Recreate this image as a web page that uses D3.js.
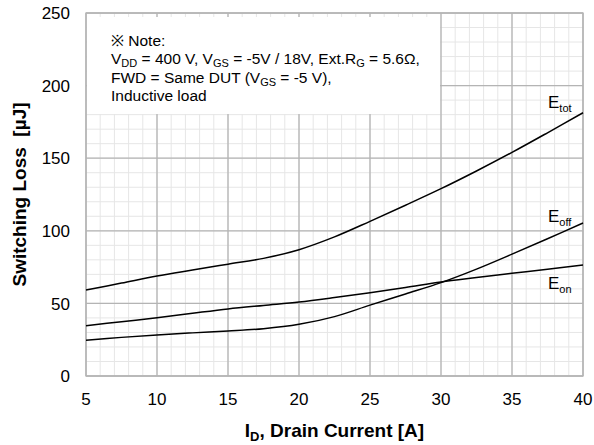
<!DOCTYPE html>
<html><head><meta charset="utf-8">
<script src="https://cdn.jsdelivr.net/npm/d3@7"></script>
<style>
body{margin:0;background:#fff}
svg{display:block}
text{font-family:"Liberation Sans",Arial,Helvetica,sans-serif;fill:#000}
</style>
</head><body>
<svg id="chart" width="594" height="445"></svg>
<script>
// ---- data ----
const current = [5, 7.5, 10, 12.5, 15, 17.5, 20, 22.5, 25, 27.5, 30, 32.5, 35, 37.5, 40];
const eTot = [59.2, 64.0, 68.9, 73.0, 77.0, 81.0, 87.0, 95.8, 106.5, 117.6, 129.0, 141.2, 154.0, 167.5, 181.3];
const eOff = [24.7, 26.6, 28.3, 29.7, 31.0, 32.6, 35.6, 40.9, 48.8, 56.5, 64.3, 73.6, 83.9, 94.5, 105.4];
const eOn  = [34.6, 37.4, 40.1, 43.2, 46.2, 48.6, 50.9, 54.0, 57.4, 61.0, 64.8, 67.8, 70.7, 73.6, 76.4];
const seriesSubs = ["tot", "off", "on"];
const xTicks = [5, 10, 15, 20, 25, 30, 35, 40];
const yTicks = [0, 50, 100, 150, 200, 250];
const xMinor = d3.range(5, 41, 1);
const yMinor = d3.range(0, 251, 10);
const xTitle = [["I", false], ["D", true], [", Drain Current [A]", false]];
const yTitle = "Switching Loss\u00A0\u00A0[µJ]";
const noteLines = [
  [["※ Note:", false]],
  [["V", false], ["DD", true], [" = 400 V, V", false], ["GS", true], [" = -5V / 18V, Ext.R", false], ["G", true], [" = 5.6Ω,", false]],
  [["FWD = Same DUT (V", false], ["GS", true], [" = -5 V),", false]],
  [["Inductive load", false]]
];

// ---- layout ----
const svg = d3.select("#chart");
const L = 86, R = 583, T = 13, B = 376;
const x = d3.scaleLinear().domain([5, 40]).range([L, R]);
const y = d3.scaleLinear().domain([0, 250]).range([B, T]);

// minor grid
const g = svg.append("g");
g.selectAll(".vmin").data(xMinor).join("line")
  .attr("x1", d => x(d)).attr("x2", d => x(d)).attr("y1", T).attr("y2", B)
  .attr("stroke", "#e6e6e6").attr("stroke-width", 1);
g.selectAll(".hmin").data(yMinor).join("line")
  .attr("y1", d => y(d)).attr("y2", d => y(d)).attr("x1", L).attr("x2", R)
  .attr("stroke", "#e6e6e6").attr("stroke-width", 1);
// major grid
g.selectAll(".vmaj").data(xTicks).join("line")
  .attr("x1", d => x(d)).attr("x2", d => x(d)).attr("y1", T).attr("y2", B)
  .attr("stroke", "#b4b4b4").attr("stroke-width", 1.3);
g.selectAll(".hmaj").data(yTicks).join("line")
  .attr("y1", d => y(d)).attr("y2", d => y(d)).attr("x1", L).attr("x2", R)
  .attr("stroke", "#b4b4b4").attr("stroke-width", 1.3);

// note box (white background)
svg.append("rect").attr("x", L + 1).attr("y", 17).attr("width", x(30) - L - 2).attr("height", 97)
  .attr("fill", "#fff");

// border
svg.append("rect").attr("x", L).attr("y", T).attr("width", R - L).attr("height", B - T)
  .attr("fill", "none").attr("stroke", "#b4b4b4").attr("stroke-width", 1.3);

// curves
const line = d3.line().x(d => x(d[0])).y(d => y(d[1])).curve(d3.curveCatmullRom.alpha(0.5));
[eTot, eOff, eOn].forEach(vals => {
  svg.append("path").datum(current.map((c, i) => [c, vals[i]]))
    .attr("d", line).attr("fill", "none").attr("stroke", "#000").attr("stroke-width", 1.5);
});

// axes tick labels
svg.selectAll(".xl").data(xTicks).join("text")
  .attr("x", d => x(d)).attr("y", 405).attr("text-anchor", "middle")
  .attr("font-size", 17).text(d => d);
svg.selectAll(".yl").data(yTicks).join("text")
  .attr("x", 70).attr("y", d => y(d)).attr("dy", "0.36em").attr("text-anchor", "end")
  .attr("font-size", 17).text(d => d);

// rich text helper
function rich(sel, parts, size, subSize, subDy) {
  let prevSub = false;
  parts.forEach(([t, sub]) => {
    const ts = sel.append("tspan").text(t).attr("font-size", sub ? subSize : size);
    if (sub && !prevSub) ts.attr("dy", subDy);
    if (!sub && prevSub) ts.attr("dy", -subDy);
    prevSub = sub;
  });
}

// axis titles
const xt = svg.append("text").attr("x", (L + R) / 2).attr("y", 437)
  .attr("text-anchor", "middle").attr("font-weight", "bold");
rich(xt, xTitle, 19, 13, 4);
svg.append("text").attr("transform", `translate(26,${(T + B) / 2}) rotate(-90)`)
  .attr("text-anchor", "middle").attr("font-weight", "bold").attr("font-size", 19).text(yTitle);

// series labels
const labelPos = [[548, 108], [548, 222], [548, 289]];
seriesSubs.forEach((s, i) => {
  const t = svg.append("text").attr("x", labelPos[i][0]).attr("y", labelPos[i][1]);
  rich(t, [["E", false], [s, true]], 17, 11, 4);
});

// note
noteLines.forEach((parts, i) => {
  const t = svg.append("text").attr("x", 111).attr("y", 45.5 + i * 18.5);
  rich(t, parts, 15.5, 11, 3);
});
</script>
</body></html>
